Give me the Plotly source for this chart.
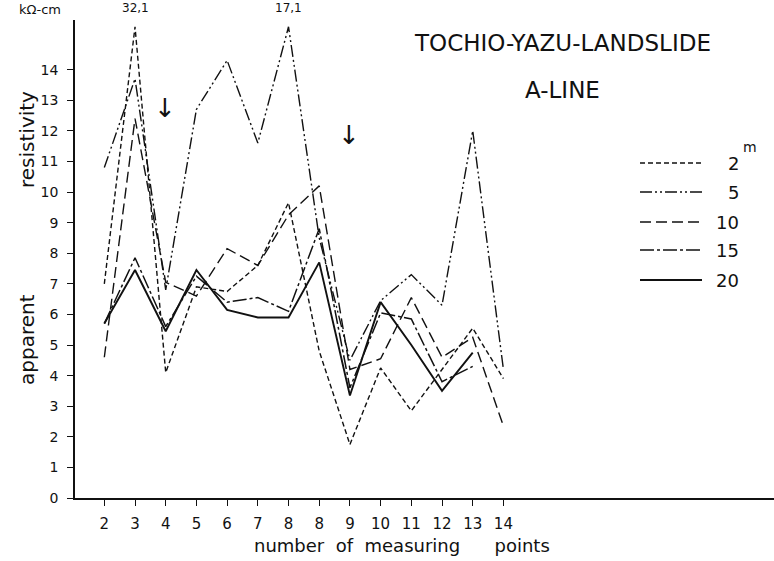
import plotly.graph_objects as go

# ---------------- data ----------------
point_labels = ["2", "3", "4", "5", "6", "7", "8", "8", "9", "10", "11", "12", "13", "14"]
depth_labels = ["2", "5", "10", "15", "20"]

rho_2m = [7.0, 32.1, 4.1, 6.9, 6.75, 7.6, 9.65, 4.8, 1.75, 4.25, 2.85, 4.2, 5.55, 3.9]
rho_5m = [10.8, 13.7, 6.8, 12.7, 14.3, 11.6, 17.1, 8.5, 4.5, 6.45, 7.3, 6.3, 12.0, 4.2]
rho_10m = [4.6, 12.4, 7.05, 6.6, 8.15, 7.6, 9.25, 10.2, 4.2, 4.55, 6.55, 4.6, 5.25, 2.35]
rho_15m = [5.7, 7.85, 5.6, 7.25, 6.4, 6.55, 6.1, 8.8, 3.6, 6.05, 5.85, 3.8, 4.3, None]
rho_20m = [5.7, 7.45, 5.45, 7.45, 6.15, 5.9, 5.9, 7.7, 3.35, 6.4, 5.0, 3.5, 4.75, None]

y_ticks = list(range(0, 15))

# ---------------- styling ----------------
CLIP = 15.4          # off-scale values are drawn at the top of the scale and labelled
FONT = "DejaVu Sans"
INK = "#111111"

series = [
    (rho_2m, "5px,3px", 1.4),
    (rho_5m, "12px,3px,2px,3px,2px,3px", 1.4),
    (rho_10m, "11px,5px", 1.4),
    (rho_15m, "14px,3px,3px,3px", 1.5),
    (rho_20m, "solid", 1.9),
]

# plot area in pixels (774 x 561 page)
L, R, T, B = 75, 0, 20, 63
W, H = 774, 561
PW, PH = W - L - R, H - T - B

x_idx = list(range(len(point_labels)))

fig = go.Figure()
for vals, dash, lw in series:
    shown = [None if v is None else min(v, CLIP) for v in vals]
    fig.add_trace(go.Scatter(
        x=x_idx, y=shown, mode="lines",
        line=dict(color=INK, width=lw, dash=dash),
        showlegend=False, hoverinfo="skip", connectgaps=False,
    ))

annotations = []


def note(px, py, text, size, angle=0, xanchor="center"):
    annotations.append(dict(
        x=(px - L) / PW, y=(H - B - py) / PH, xref="paper", yref="paper",
        xanchor=xanchor, yanchor="middle", text=text, textangle=angle,
        showarrow=False, font=dict(family=FONT, size=size, color=INK)))


# labels for off-scale values
for vals, _, _ in series:
    for i, v in enumerate(vals):
        if v is not None and v > CLIP:
            annotations.append(dict(
                x=i, y=1.0, xref="x", yref="paper", xanchor="center", yanchor="bottom", yshift=3,
                text=f"{v:.1f}".replace(".", ","), showarrow=False,
                font=dict(family=FONT, size=12, color=INK)))

# title
note(562, 43, "TOCHIO-YAZU-LANDSLIDE", 23)
note(562, 90, "A-LINE", 23)

# legend (drawn by hand, like the original)
shapes = []
legend_rows = [163, 192, 222, 250, 280]
for (vals, dash, lw), lab, py in zip(series, depth_labels, legend_rows):
    y0 = (H - B - py) / PH
    shapes.append(dict(type="line", xref="paper", yref="paper",
                       x0=(640 - L) / PW, x1=(702 - L) / PW, y0=y0, y1=y0,
                       line=dict(color=INK, width=lw, dash=dash)))
    note(741, py, lab, 18, xanchor="right")
note(750, 147, "m", 14)

# unit label
note(40, 9, "kΩ-cm", 13)

# y-axis title (two words, as in the original)
note(27, 140, "resistivity", 20, angle=-90)
note(27, 340, "apparent", 20, angle=-90)

# x-axis title
note(402, 545, "number  of  measuring      points", 18)

# arrows marking points
for xi, yv in [(1.98, 12.75), (7.97, 11.85)]:
    annotations.append(dict(x=xi, y=yv, xref="x", yref="y", text="↓", showarrow=False,
                            xanchor="center", yanchor="middle",
                            font=dict(family=FONT, size=26, color=INK)))

fig.update_layout(
    width=W, height=H,
    margin=dict(l=L, r=R, t=T, b=B),
    paper_bgcolor="white", plot_bgcolor="white",
    annotations=annotations, shapes=shapes,
    xaxis=dict(
        range=[-0.955, -0.955 + PW / 30.7],
        tickmode="array", tickvals=x_idx, ticktext=point_labels,
        ticks="outside", ticklen=6, tickwidth=1.2, tickcolor=INK,
        showline=True, linecolor=INK, linewidth=1.5,
        showgrid=False, zeroline=False,
        tickfont=dict(family=FONT, size=15, color=INK),
        ticklabelstandoff=5,
    ),
    yaxis=dict(
        range=[0, PH / 30.6],
        tickmode="array", tickvals=y_ticks, ticktext=[str(v) for v in y_ticks],
        ticks="outside", ticklen=6, tickwidth=1.2, tickcolor=INK,
        showline=True, linecolor=INK, linewidth=1.5,
        showgrid=False, zeroline=False,
        tickfont=dict(family=FONT, size=14, color=INK),
        ticklabelstandoff=6,
    ),
)

fig.write_html("out.html")
